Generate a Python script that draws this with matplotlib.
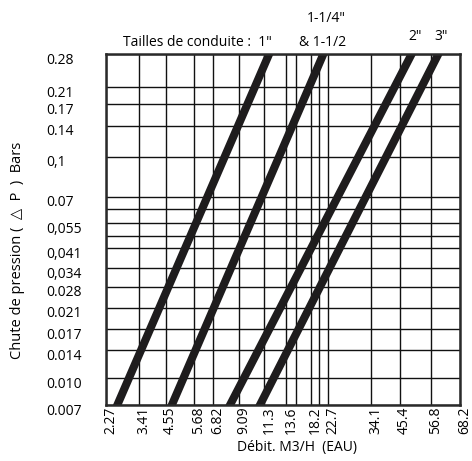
import numpy as np
import matplotlib
matplotlib.use("Agg")
import matplotlib.pyplot as plt
import matplotlib.transforms as mtransforms

plt.rcParams['font.family'] = ['Open Sans', 'DejaVu Sans']

# ---- data ----
sizes = ['1"', '1-1/4" & 1-1/2', '2"', '3"']
flow_low = [2.61, 4.78, 8.23, 10.91]     # m3/h at 0.007 bar
flow_high = [11.8, 21.4, 49.5, 59.5]     # m3/h at 0.28 bar
dp_low = 0.007
dp_high = 0.28

x_ticks = [2.27, 3.41, 4.55, 5.68, 6.82, 9.09, 11.3, 13.6, 18.2, 22.7, 34.1, 45.4, 56.8, 68.2]
x_labels = ['2.27', '3.41', '4.55', '5.68', '6.82', '9.09', '11.3', '13.6', '18.2', '22.7',
            '34.1', '45.4', '56.8', '68.2']
x_extra = [15.3, 20.1]
y_ticks = [0.28, 0.21, 0.17, 0.14, 0.1, 0.07, 0.055, 0.041, 0.034, 0.028, 0.021, 0.017, 0.014, 0.010, 0.007]
y_labels = ['0.28', '0.21', '0.17', '0.14', '0,1', '0.07', '0,055', '0,041', '0,034', '0.028',
            '0.021', '0.017', '0.014', '0.010', '0.007']
y_extra = [0.062, 0.048]

# ---- chart scale (printed nomogram grid, piecewise in log space) ----
x_anchor = [2.27, 3.41, 4.55, 5.68, 6.82, 9.09, 11.3, 13.6, 15.3, 18.2, 20.1, 22.7, 34.1, 45.4, 56.8, 68.2]
x_frac = [0, 0.0932, 0.1681, 0.2486, 0.3023, 0.3757, 0.4463, 0.5085, 0.5367, 0.5777, 0.6003,
          0.6271, 0.7477, 0.8291, 0.9181, 1.0]
y_anchor = [0.007, 0.010, 0.014, 0.017, 0.021, 0.028, 0.034, 0.041, 0.048, 0.055, 0.062, 0.07,
            0.1, 0.14, 0.17, 0.21, 0.28]
y_frac = [0, 0.0761, 0.1553, 0.2165, 0.2764, 0.3362, 0.3889, 0.4459, 0.4801, 0.5185, 0.5570,
          0.5934, 0.7074, 0.7949, 0.8575, 0.9046, 1.0]


def make_scale(anchor, frac):
    la = np.log(np.array(anchor))
    fr = np.array(frac)

    def fwd(v):
        v = np.clip(np.asarray(v, dtype=float), 1e-9, None)
        return np.interp(np.log(v), la, fr)

    def inv(f):
        return np.exp(np.interp(np.asarray(f, dtype=float), fr, la))
    return fwd, inv


W, H = 472, 461
fig = plt.figure(figsize=(W / 100, H / 100), dpi=100)
ax = fig.add_axes([106 / W, 1 - 405 / H, 354 / W, 351 / H])

ax.set_xscale('function', functions=make_scale(x_anchor, x_frac))
ax.set_yscale('function', functions=make_scale(y_anchor, y_frac))
ax.set_xlim(x_ticks[0], x_ticks[-1])
ax.set_ylim(dp_low, dp_high)

ax.set_xticks(x_ticks)
ax.set_xticklabels(x_labels, rotation=90, fontsize=10)
ax.set_xticks(x_extra, minor=True)
ax.set_yticks(y_ticks)
ax.set_yticklabels(y_labels, fontsize=10, ha='left')
ax.set_yticks(y_extra, minor=True)
ax.tick_params(axis='both', which='both', length=0)
ax.tick_params(axis='x', pad=1)
ax.tick_params(axis='y', pad=43)
ax.xaxis.set_minor_formatter(plt.NullFormatter())
ax.yaxis.set_minor_formatter(plt.NullFormatter())

offy = mtransforms.ScaledTranslation(0, -4 / 100, fig.dpi_scale_trans)
for lab in ax.get_yticklabels():
    lab.set_transform(lab.get_transform() + offy)
offx = mtransforms.ScaledTranslation(5 / 100, 0, fig.dpi_scale_trans)
for lab in ax.get_xticklabels():
    lab.set_transform(lab.get_transform() + offx)

ax.grid(True, which='both', color='#111111', linewidth=1.0)
ax.set_axisbelow(True)

for lo, hi in zip(flow_low, flow_high):
    ax.plot([lo, hi], [dp_low, dp_high], color='#1e1c1d', linewidth=5.8,
            solid_capstyle='projecting', clip_on=True, zorder=3)

for s in ax.spines.values():
    s.set_linewidth(1.8)
    s.set_color('#2a2a2a')
    s.set_zorder(5)

# header labels
fig.text(123 / W, 1 - 42 / H, 'Tailles de conduite :  ' + sizes[0], fontsize=10, ha='left', va='center')
fig.text(326 / W, 1 - 19 / H, '1-1/4"', fontsize=10, ha='center', va='center')
fig.text(323 / W, 1 - 42 / H, '& 1-1/2', fontsize=10, ha='center', va='center')
fig.text(415 / W, 1 - 36 / H, sizes[2], fontsize=10, ha='center', va='center')
fig.text(441 / W, 1 - 36 / H, sizes[3], fontsize=10, ha='center', va='center')

fig.text(18 / W, 1 - 250 / H, 'Chute de pression (  \u25b3  P  )  Bars', fontsize=10.5,
         rotation=90, ha='center', va='center')
fig.text(297 / W, 1 - 447 / H, 'Débit. M3/H  (EAU)', fontsize=10, ha='center', va='center')

fig.savefig('out.png', dpi=100)
